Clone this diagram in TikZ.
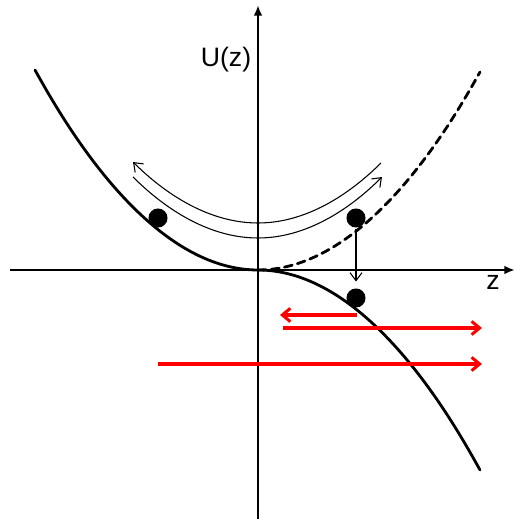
\documentclass[tikz,border=0pt]{standalone}
\usepackage{fontspec}
\setmainfont{Liberation Sans}
\usetikzlibrary{arrows.meta}
\definecolor{xRed}{RGB}{255,0,0}

\tikzset{
    axis/.style={line width=1.6pt, -{Latex[length=8pt,width=6.5pt]}},
    pot/.style={line width=2.1pt, line cap=round},
    swing/.style={line width=0.8pt, -{Straight Barb[length=6pt,width=9pt,line width=0.8pt]}},
    ball/.style={circle, fill=black, inner sep=0pt, minimum size=14.3pt},
    redpush/.style={xRed, line width=2.3pt, -{Straight Barb[length=6pt,width=10pt,line width=2.3pt]}}
}

\begin{document}
\begin{tikzpicture}[x=0.75pt,y=0.75pt]

    % -------------------------------------------------
    % White background, fixes the margins
    % -------------------------------------------------
    \fill[white] (-258,-249) rectangle (258,270);
    \useasboundingbox (-258,-249) rectangle (258,270);

    % -------------------------------------------------
    % Axes
    % -------------------------------------------------
    \draw[axis] (-248,0) -- (257,0);
    \draw[axis] (0,-249) -- (0,265);

    \node (ulabel) at (-32,210) {\fontsize{20}{24}\selectfont U(z)};
    \node (zlabel) at (235,-12) {\fontsize{20}{24}\selectfont z};

    % -------------------------------------------------
    % Potential curves
    %
    % left branch, dashed right branch and the
    % inverted right branch share the vertex (0,0)
    % -------------------------------------------------
    \draw[pot] (0,0) parabola (-223,200);
    \draw[pot, dash pattern=on 6pt off 4pt] (0,0) parabola (222,198);
    \draw[pot] (0,0) parabola (222,-200);

    % -------------------------------------------------
    % Oscillation arrows above the well
    % -------------------------------------------------
    \draw[swing] (123,107) parabola bend (0,47) (-125,108);
    \draw[swing] (-125,93) parabola bend (0,32) (124,93);

    % -------------------------------------------------
    % Balls
    % -------------------------------------------------
    \node[ball] (ballL) at (-100,52) {};
    \node[ball] (ballR) at (98,52) {};
    \node[ball] (ballD) at (98,-28) {};

    \draw[line width=0.8pt, -{Straight Barb[length=6pt,width=9pt,line width=0.8pt]},
          shorten <=1pt, shorten >=5pt]
        (ballR.south) -- (ballD.north);

    % -------------------------------------------------
    % Red arrows
    % -------------------------------------------------
    \draw[redpush] (99,-45) -- (22,-45);
    \draw[redpush] (25,-58) -- (224,-58);
    \draw[redpush] (-100,-94) -- (224,-94);

\end{tikzpicture}
\end{document}
